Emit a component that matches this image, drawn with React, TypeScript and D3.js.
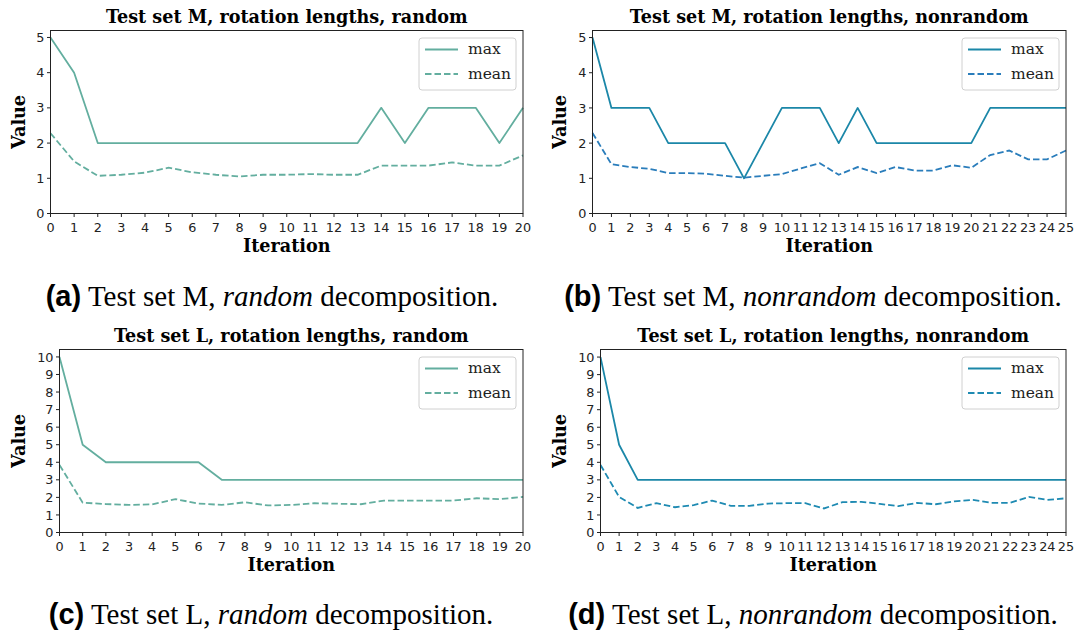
import React from "react";
import * as d3 from "d3";

// Rotation-length traces per iteration
const iterM_random = d3.range(0, 21);
const maxM_random = [5, 4, 2, 2, 2, 2, 2, 2, 2, 2, 2, 2, 2, 2, 3, 2, 3, 3, 3, 2, 3];
const meanM_random = [2.28, 1.48, 1.07, 1.1, 1.16, 1.3, 1.17, 1.1, 1.05, 1.1, 1.1, 1.12, 1.1, 1.1, 1.36, 1.36, 1.36, 1.45, 1.36, 1.36, 1.65];

const iterM_nonrandom = d3.range(0, 26);
const maxM_nonrandom = [5, 3, 3, 3, 2, 2, 2, 2, 1, 2, 3, 3, 3, 2, 3, 2, 2, 2, 2, 2, 2, 3, 3, 3, 3, 3];
const meanM_nonrandom = [2.29, 1.4, 1.32, 1.27, 1.15, 1.15, 1.13, 1.07, 1.02, 1.07, 1.12, 1.28, 1.43, 1.1, 1.32, 1.15, 1.32, 1.22, 1.22, 1.37, 1.3, 1.66, 1.79, 1.54, 1.54, 1.79];

const iterL_random = d3.range(0, 21);
const maxL_random = [10, 5, 4, 4, 4, 4, 4, 3, 3, 3, 3, 3, 3, 3, 3, 3, 3, 3, 3, 3, 3];
const meanL_random = [3.85, 1.7, 1.62, 1.57, 1.6, 1.9, 1.65, 1.57, 1.72, 1.54, 1.57, 1.67, 1.64, 1.61, 1.82, 1.82, 1.82, 1.82, 1.95, 1.9, 2.03];

const iterL_nonrandom = d3.range(0, 26);
const maxL_nonrandom = [10, 5, 3, 3, 3, 3, 3, 3, 3, 3, 3, 3, 3, 3, 3, 3, 3, 3, 3, 3, 3, 3, 3, 3, 3, 3];
const meanL_nonrandom = [3.85, 2.03, 1.4, 1.67, 1.44, 1.56, 1.82, 1.52, 1.52, 1.65, 1.67, 1.67, 1.37, 1.73, 1.75, 1.63, 1.5, 1.69, 1.61, 1.78, 1.86, 1.69, 1.69, 2.03, 1.86, 1.95];

const titles = [
  "Test set M, rotation lengths, random",
  "Test set M, rotation lengths, nonrandom",
  "Test set L, rotation lengths, random",
  "Test set L, rotation lengths, nonrandom",
];
const captionTags = ["(a)", "(b)", "(c)", "(d)"];
const captionSets = ["M", "M", "L", "L"];
const captionModes = ["random", "nonrandom", "random", "nonrandom"];
const legendLabels = ["max", "mean"];

const SERIF = "'DejaVu Serif', serif";
const SANS = "'DejaVu Sans', sans-serif";

type Panel = {
  iters: number[];
  max: number[];
  mean: number[];
  title: string;
  frame: { left: number; right: number; top: number; bottom: number; labelX: number };
  maxColor: string;
  meanColor: string;
  caption: { x: number; y: number; tag: string; set: string; mode: string };
};

const TEAL = "#63ae9f";
const BLUE = "#1b87a8";

const panels: Panel[] = [
  {
    iters: iterM_random, max: maxM_random, mean: meanM_random, title: titles[0],
    frame: { left: 50.5, right: 523, top: 30.5, bottom: 213.5, labelX: 25 },
    maxColor: TEAL, meanColor: TEAL,
    caption: { x: 272, y: 306, tag: captionTags[0], set: captionSets[0], mode: captionModes[0] },
  },
  {
    iters: iterM_nonrandom, max: maxM_nonrandom, mean: meanM_nonrandom, title: titles[1],
    frame: { left: 592.5, right: 1066, top: 30.5, bottom: 213.5, labelX: 566 },
    maxColor: BLUE, meanColor: "#2a7dbb",
    caption: { x: 813, y: 306, tag: captionTags[1], set: captionSets[1], mode: captionModes[1] },
  },
  {
    iters: iterL_random, max: maxL_random, mean: meanL_random, title: titles[2],
    frame: { left: 59.5, right: 523, top: 349.5, bottom: 532.5, labelX: 25 },
    maxColor: TEAL, meanColor: TEAL,
    caption: { x: 271, y: 624, tag: captionTags[2], set: captionSets[2], mode: captionModes[2] },
  },
  {
    iters: iterL_nonrandom, max: maxL_nonrandom, mean: meanL_nonrandom, title: titles[3],
    frame: { left: 600.5, right: 1066, top: 349.5, bottom: 532.5, labelX: 566 },
    maxColor: BLUE, meanColor: "#1e8ab2",
    caption: { x: 813, y: 624, tag: captionTags[3], set: captionSets[3], mode: captionModes[3] },
  },
];

function Chart({ p }: { p: Panel }) {
  const { left, right, top, bottom, labelX } = p.frame;
  const all = [...p.max, ...p.mean];
  const lo = d3.min(all)!;
  const hi = d3.max(all)!;
  const yTop = hi + 0.05 * (hi - lo);
  const x = d3.scaleLinear().domain([0, d3.max(p.iters)!]).range([left, right]);
  const y = d3.scaleLinear().domain([0, yTop]).range([bottom, top]);
  const yTicks = d3.range(0, Math.floor(hi) + 1);
  const line = d3
    .line<number>()
    .x((_, i) => x(p.iters[i]))
    .y((v) => y(v));
  const tickColor = "#222";
  const lgW = 97;
  const lgH = 52;
  const lgX = right - 7 - lgW;
  const lgY = top + 7.5;
  return (
    <g>
      <text
        x={(left + right) / 2}
        y={top - 8}
        textAnchor="middle"
        fontFamily={SERIF}
        fontWeight="bold"
        fontSize={17.6}
        fill="#000"
      >
        {p.title}
      </text>
      <path d={line(p.max)!} fill="none" stroke={p.maxColor} strokeWidth={1.8} strokeLinejoin="round" />
      <path
        d={line(p.mean)!}
        fill="none"
        stroke={p.meanColor}
        strokeWidth={1.8}
        strokeDasharray="6.5,3"
      />
      <rect
        x={left}
        y={top}
        width={right - left}
        height={bottom - top}
        fill="none"
        stroke="#222"
        strokeWidth={1}
      />
      {p.iters.map((t) => (
        <g key={"x" + t}>
          <line x1={x(t)} x2={x(t)} y1={bottom} y2={bottom + 3.5} stroke={tickColor} />
          <text x={x(t)} y={bottom + 18} textAnchor="middle" fontFamily={SANS} fontSize={12.8} fill={tickColor}>
            {t}
          </text>
        </g>
      ))}
      {yTicks.map((t) => (
        <g key={"y" + t}>
          <line x1={left - 3.5} x2={left} y1={y(t)} y2={y(t)} stroke={tickColor} />
          <text
            x={left - 6}
            y={y(t)}
            dy="0.36em"
            textAnchor="end"
            fontFamily={SANS}
            fontSize={12.8}
            fill={tickColor}
          >
            {t}
          </text>
        </g>
      ))}
      <text
        x={(left + right) / 2}
        y={bottom + 38.5}
        textAnchor="middle"
        fontFamily={SERIF}
        fontWeight="bold"
        fontSize={17.6}
      >
        Iteration
      </text>
      <text
        transform={`translate(${labelX},${(top + bottom) / 2}) rotate(-90)`}
        textAnchor="middle"
        fontFamily={SERIF}
        fontWeight="bold"
        fontSize={17.6}
      >
        Value
      </text>
      <g>
        <rect x={lgX} y={lgY} width={lgW} height={lgH} rx={3} fill="#fff" fillOpacity={0.8} stroke="#d0d0d0" />
        <line x1={lgX + 6} x2={lgX + 39} y1={lgY + 11.5} y2={lgY + 11.5} stroke={p.maxColor} strokeWidth={1.8} />
        <line
          x1={lgX + 6}
          x2={lgX + 39}
          y1={lgY + 36}
          y2={lgY + 36}
          stroke={p.meanColor}
          strokeWidth={1.8}
          strokeDasharray="6.5,3"
        />
        <text x={lgX + 49} y={lgY + 11.5} dy="0.32em" fontFamily={SERIF} fontSize={15.5} fill="#222">
          {legendLabels[0]}
        </text>
        <text x={lgX + 49} y={lgY + 36} dy="0.32em" fontFamily={SERIF} fontSize={15.5} fill="#222">
          {legendLabels[1]}
        </text>
      </g>
      <text x={p.caption.x} y={p.caption.y} textAnchor="middle" fontSize={29} fill="#000">
        <tspan fontFamily="'Liberation Sans', sans-serif" fontWeight="bold">
          {p.caption.tag}
        </tspan>
        <tspan fontFamily="'Liberation Serif', serif">{` Test set ${p.caption.set}, `}</tspan>
        <tspan fontFamily="'Liberation Serif', serif" fontStyle="italic">
          {p.caption.mode}
        </tspan>
        <tspan fontFamily="'Liberation Serif', serif"> decomposition.</tspan>
      </text>
    </g>
  );
}

export default function App() {
  return (
    <svg
      width={1075}
      height={634}
      viewBox="0 0 1075 634"
      style={{ position: "absolute", left: 0, top: 0, background: "#fff" }}
    >
      <rect width={1075} height={634} fill="#fff" />
      {panels.map((p, i) => (
        <Chart key={i} p={p} />
      ))}
    </svg>
  );
}
